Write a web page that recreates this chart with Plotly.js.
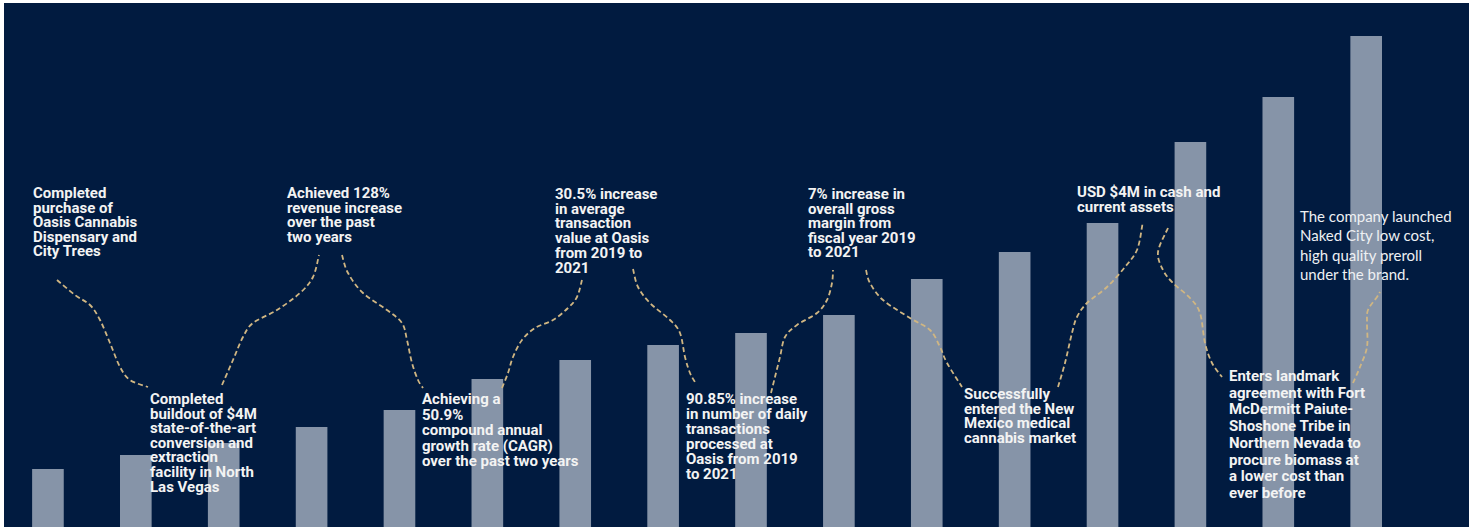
<!DOCTYPE html>
<html>
<head>
<meta charset="utf-8">
<script src="https://cdn.plot.ly/plotly-3.0.1.min.js"></script>
<style>
html,body{margin:0;padding:0;background:#ffffff;}
#chart{width:1476px;height:529px;}
</style>
</head>
<body>
<div id="chart"></div>
<script>
// ---------- DATA ----------
const periods = ["1","2","3","4","5","6","7","8","9","10","11","12","13","14","15","16"];
const values  = [58, 72, 84, 100, 117, 148, 167, 182, 194, 212, 248, 275, 304, 385, 430, 491];

const note1  = ["Completed", "purchase of", "Oasis Cannabis", "Dispensary and", "City Trees"];
const note2  = ["Completed", "buildout of $4M", "state-of-the-art", "conversion and", "extraction", "facility in North", "Las Vegas"];
const note3  = ["Achieved 128%", "revenue increase", "over the past", "two years"];
const note4  = ["Achieving a", "50.9%", "compound annual", "growth rate (CAGR)", "over the past two years"];
const note5  = ["30.5% increase", "in average", "transaction", "value at Oasis", "from 2019 to", "2021"];
const note6  = ["90.85% increase", "in number of daily", "transactions", "processed at", "Oasis from 2019", "to 2021"];
const note7  = ["7% increase in", "overall gross", "margin from", "fiscal year 2019", "to 2021"];
const note8  = ["Successfully", "entered the New", "Mexico medical", "cannabis market"];
const note9  = ["USD $4M in cash and", "current assets"];
const note10 = ["Enters landmark", "agreement with Fort", "McDermitt Paiute-", "Shoshone Tribe in", "Northern Nevada to", "procure biomass at", "a lower cost than", "ever before"];
const note11 = ["The company launched", "Naked City low cost,", "high quality preroll", "under the brand."];

// ---------- LAYOUT / STYLE ----------
const W = 1476, H = 529;
const M = {l:4, r:7, t:3, b:2};
const PW = W - M.l - M.r, PH = H - M.t - M.b;
const px = x => (x - M.l) / PW;
const py = y => (H - M.b - y) / PH;

const NAVY = "#011b40";
const BAR  = "#8694a8";
const DASH = "#d0b682";
const TXT  = "#f3f3f3";
const FS = 15;

// placement of each note block: left x, first-line centre y, line step (pixels)
const placements = [
  {t:note1,  x:31,   y:193.5, s:14.6},
  {t:note2,  x:148,  y:399.5, s:14.6},
  {t:note3,  x:285,  y:193.5, s:14.6},
  {t:note4,  x:420,  y:399.5, s:15.6},
  {t:note5,  x:553,  y:194.5, s:14.7},
  {t:note6,  x:684,  y:399.5, s:14.9},
  {t:note7,  x:806,  y:194.5, s:14.6},
  {t:note8,  x:962,  y:394.5, s:14.6},
  {t:note9,  x:1075, y:192.5, s:15.0},
  {t:note10, x:1227, y:376.5, s:16.7},
  {t:note11, x:1298, y:215.5, s:19.3, lato:true}
];

const annotations = placements.map(p => ({
  xref:"paper", yref:"paper",
  x:px(p.x), y:py(p.y - (p.lato ? 11 : 11.3)),
  xanchor:"left", yanchor:"top", align:"left",
  showarrow:false, text:p.t.join("<br>"),
  font: p.lato
    ? {family:"Lato, 'Open Sans', sans-serif", size:FS, weight:400, color:"#eef0f3"}
    : {family:"Roboto, 'Noto Sans', sans-serif", size:FS, weight:700, color:TXT}
}));

// decorative dashed connectors (pixel way-points)
const connectors = [
  [[57,280],[75,295],[90,305],[100,320],[110,343],[120,367],[130,380],[148,387]],
  [[222,385],[233,360],[243,337],[253,323],[277,310],[300,293],[313,277],[319,255]],
  [[342,255],[348,273],[363,293],[387,310],[402,323],[407,340],[412,363],[418,380],[423,388]],
  [[502,388],[508,373],[513,357],[522,340],[535,328],[553,320],[568,308],[577,297],[582,280]],
  [[633,269],[638,287],[650,303],[670,320],[680,333],[685,357],[690,373],[695,382]],
  [[771,393],[775,377],[780,357],[785,337],[797,325],[817,313],[827,300],[832,283],[833,270]],
  [[866,270],[870,283],[883,300],[910,318],[930,330],[940,347],[947,363],[962,387]],
  [[1058,387],[1065,363],[1072,333],[1077,317],[1087,303],[1107,287],[1125,267],[1137,250],[1142,227],[1142,222]],
  [[1168,228],[1158,252],[1163,270],[1173,283],[1190,298],[1200,313],[1205,343],[1212,363],[1222,377]],
  [[1353,383],[1360,367],[1367,347],[1367,323],[1368,310],[1377,297],[1380,292]]
];

function smoothPath(pts){
  const P = pts.map(p => [px(p[0]), py(p[1])]);
  let d = "M " + P[0][0] + "," + P[0][1];
  for (let i = 0; i < P.length - 1; i++){
    const p0 = P[Math.max(0, i-1)], p1 = P[i], p2 = P[i+1], p3 = P[Math.min(P.length-1, i+2)];
    const c1 = [p1[0] + (p2[0]-p0[0])/6, p1[1] + (p2[1]-p0[1])/6];
    const c2 = [p2[0] - (p3[0]-p1[0])/6, p2[1] - (p3[1]-p1[1])/6];
    d += " C " + c1[0] + "," + c1[1] + " " + c2[0] + "," + c2[1] + " " + p2[0] + "," + p2[1];
  }
  return d;
}

const shapes = connectors.map(c => ({
  type:"path", xref:"paper", yref:"paper", path:smoothPath(c),
  line:{color:DASH, width:1.8, dash:"5px,3px"}, layer:"above"
}));

const trace = {
  type:"bar",
  x: periods.map((_, i) => i),
  y: values,
  width: 0.36,
  marker:{color:BAR},
  hoverinfo:"skip",
  customdata: periods
};

const layout = {
  width:W, height:H,
  margin:M,
  paper_bgcolor:"#ffffff",
  plot_bgcolor:NAVY,
  showlegend:false,
  xaxis:{range:[-0.5, 16.17], visible:false, fixedrange:true},
  yaxis:{range:[0, PH], visible:false, fixedrange:true},
  annotations: annotations,
  shapes: shapes
};

const gd = document.getElementById("chart");
Plotly.newPlot(gd, [trace], layout, {displayModeBar:false, staticPlot:true}).then(() => {
  // tighten the line spacing of each note block to match the reference
  gd.querySelectorAll(".annotation").forEach(g => {
    const k = +g.getAttribute("data-index");
    const p = placements[k];
    if (!p) return;
    g.querySelectorAll("text.annotation-text tspan.line").forEach((t, i) => {
      t.setAttribute("dy", (i * p.s / FS) + "em");
    });
  });
});
</script>
</body>
</html>
